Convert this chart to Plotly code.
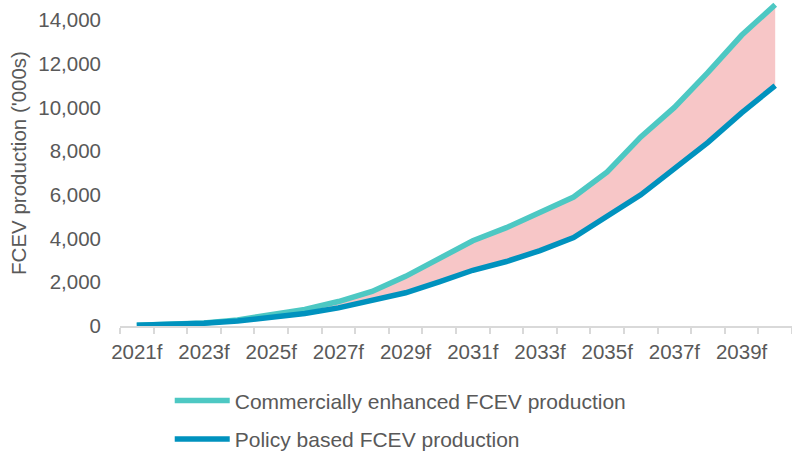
import plotly.graph_objects as go

# Forecast years (category axis)
years = [f"{y}f" for y in range(2021, 2041)]
# Only every other year carries a visible label
year_labels = [y if int(y[:4]) % 2 == 1 else "" for y in years]

# FCEV production, thousands of vehicles
commercial = [30, 60, 140, 280, 520, 760, 1120, 1580, 2270, 3100,
              3900, 4500, 5200, 5900, 7050, 8650, 10000, 11600, 13300, 14700]
policy = [30, 60, 130, 230, 410, 570, 830, 1170, 1520, 2020,
          2550, 2950, 3450, 4050, 5000, 6000, 7200, 8400, 9750, 11000]

y_ticks = [0, 2000, 4000, 6000, 8000, 10000, 12000, 14000]

TEAL = "#4DC8C3"
BLUE = "#0092BE"
PINK = "#F7C6C7"
GREY_TEXT = "#595959"
AXIS_GREY = "#D9D9D9"
FONT = "Liberation Sans, Arial, sans-serif"

fig = go.Figure()

# Shaded gap between the two scenarios (base + fill, kept out of the legend)
fig.add_trace(go.Scatter(
    x=years, y=policy, mode="lines",
    line=dict(width=0, color=BLUE), showlegend=False, hoverinfo="skip",
))
fig.add_trace(go.Scatter(
    x=years, y=commercial, mode="lines",
    line=dict(width=0, color=TEAL), fill="tonexty", fillcolor=PINK,
    showlegend=False, hoverinfo="skip",
))

# Scenario lines; policy drawn last so it sits on top where they overlap
fig.add_trace(go.Scatter(
    x=years, y=commercial, mode="lines",
    name="Commercially enhanced FCEV production",
    line=dict(color=TEAL, width=5.5),
    legendgroup="a", legendrank=1,
))
fig.add_trace(go.Scatter(
    x=years, y=policy, mode="lines",
    name="Policy based FCEV production",
    line=dict(color=BLUE, width=5.5),
    legendgroup="b", legendrank=2,
))

fig.update_layout(
    width=792, height=452,
    margin=dict(l=120, r=0, t=0, b=126, autoexpand=False),
    paper_bgcolor="white", plot_bgcolor="white",
    font=dict(family=FONT, size=20, color=GREY_TEXT),
    showlegend=True,
    legend=dict(
        x=0.074, xanchor="left",
        y=-0.167, yanchor="top",
        traceorder="grouped",
        tracegroupgap=8,
        itemwidth=55,
        font=dict(size=21, color=GREY_TEXT),
        bgcolor="rgba(0,0,0,0)",
    ),
    xaxis=dict(
        type="category",
        tickvals=years, ticktext=year_labels,
        tickangle=0, automargin=False,
        tickson="boundaries",
        ticks="outside", ticklen=6, tickcolor=AXIS_GREY, tickwidth=1.5,
        ticklabelstandoff=7,
        showline=True, linecolor=AXIS_GREY, linewidth=1.5,
        showgrid=False, zeroline=False,
        tickfont=dict(size=20.5, color=GREY_TEXT),
        range=[-0.5, 19.5],
    ),
    yaxis=dict(
        range=[0, 14915],
        tickvals=y_ticks, tickformat=",",
        showline=False, showgrid=False, zeroline=False,
        ticks="", automargin=False,
        ticklabelstandoff=18,
        tickfont=dict(size=20.5, color=GREY_TEXT),
        title=dict(text="FCEV production ('000s)", standoff=6,
                   font=dict(size=20.5, color=GREY_TEXT)),
    ),
)

fig.write_html("out.html")
